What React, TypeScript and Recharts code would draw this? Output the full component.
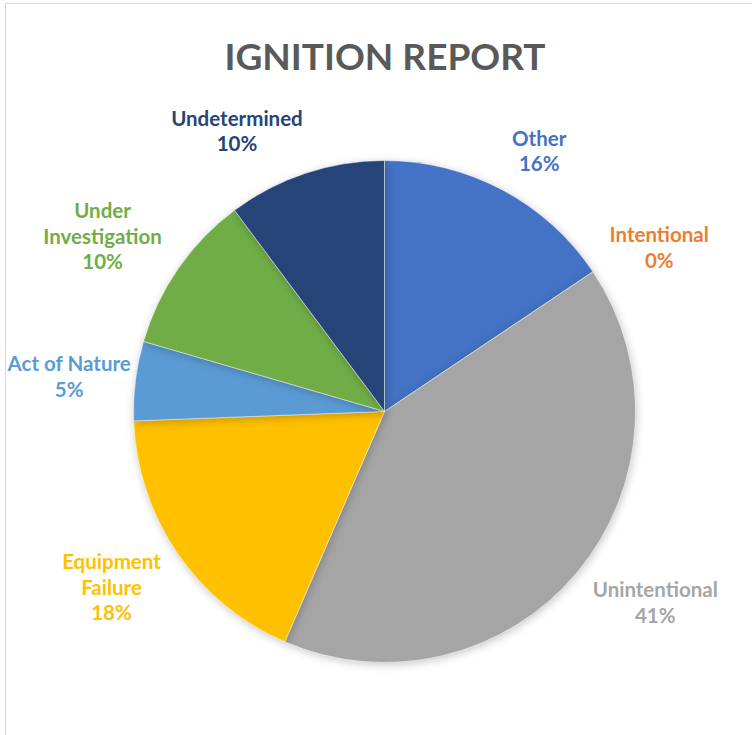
import { PieChart, Pie, Cell } from "recharts"

const categories = [
  "Other",
  "Intentional",
  "Unintentional",
  "Equipment Failure",
  "Act of Nature",
  "Under Investigation",
  "Undetermined",
]
// shares in percent
const shares = [15.6, 0, 40.9, 17.9, 5.1, 10.3, 10.2]
const colors = ["#4472C4", "#ED7D31", "#A5A5A5", "#FFC000", "#5B9BD5", "#70AD47", "#264478"]

const data = categories.map((name, i) => ({ name, value: shares[i] }))

const FONT = "Lato, 'Open Sans', sans-serif"
const LABEL_SIZE = 20.5
const LINE_H = 25.5
const RAD = Math.PI / 180

let ctx: CanvasRenderingContext2D | null = null
function textWidth(s: string) {
  if (!ctx) ctx = document.createElement("canvas").getContext("2d")
  if (!ctx) return s.length * 10
  ctx.font = `bold ${LABEL_SIZE}px ${FONT}`
  return ctx.measureText(s).width
}

function wrap(name: string) {
  if (name.length <= 14) return [name]
  return name.split(" ")
}

const clamp = (v: number) => Math.max(-1, Math.min(1, v))

// label box sits outside the slice, its inner corner near the mid angle
function renderLabel(props: any) {
  const { cx, cy, midAngle, outerRadius, percent, index } = props
  const lines = [...wrap(categories[index]), `${Math.round(percent * 100)}%`]
  const w = Math.max(...lines.map(textWidth))
  const h = lines.length * LINE_H
  const cos = Math.cos(midAngle * RAD)
  const sin = Math.sin(midAngle * RAD)
  const r = outerRadius + 20
  const px = cx + r * cos
  const py = cy - r * sin
  const x = px + (w / 2) * clamp(cos * 3) * (Math.abs(cos) > 0.95 ? 0.75 : 1)
  const y = py - (h / 2) * sin
  const top = y - h / 2
  return (
    <text
      key={`lbl-${index}`}
      x={x}
      y={top}
      textAnchor="middle"
      fill={colors[index]}
      fontFamily={FONT}
      fontWeight="bold"
      fontSize={LABEL_SIZE}
    >
      {lines.map((l, i) => (
        <tspan key={i} x={x} y={top + LINE_H * i + LINE_H * 0.72 + 3}>
          {l}
        </tspan>
      ))}
    </text>
  )
}

export default function App() {
  return (
    <div style={{ position: "absolute", left: 0, top: 0, width: 752, height: 735, background: "#fff", overflow: "hidden" }}>
      <div
        style={{
          position: "absolute",
          left: 5,
          top: 3,
          width: 800,
          height: 800,
          border: "1px solid #d9d9d9",
        }}
      />
      <div
        style={{
          position: "absolute",
          left: 0,
          top: 33,
          width: 770,
          textAlign: "center",
          fontFamily: FONT,
          fontWeight: "bold",
          fontSize: 37,
          color: "#595959",
        }}
      >
        IGNITION REPORT
      </div>
      <div style={{ position: "absolute", left: 0, top: 0 }}>
        <PieChart width={752} height={735} margin={{ top: 0, right: 0, bottom: 0, left: 0 }}>
          <Pie
            data={data}
            dataKey="value"
            nameKey="name"
            cx={384.5}
            cy={411.5}
            outerRadius={251}
            startAngle={90}
            endAngle={-270}
            stroke="#ffffff"
            strokeWidth={0.5}
            label={renderLabel}
            labelLine={false}
            isAnimationActive={false}
            style={{ filter: "drop-shadow(1px 2px 4px rgba(0,0,0,0.22))" }}
          >
            {data.map((d, i) => (
              <Cell key={d.name} fill={colors[i]} />
            ))}
          </Pie>
        </PieChart>
      </div>
    </div>
  )
}
